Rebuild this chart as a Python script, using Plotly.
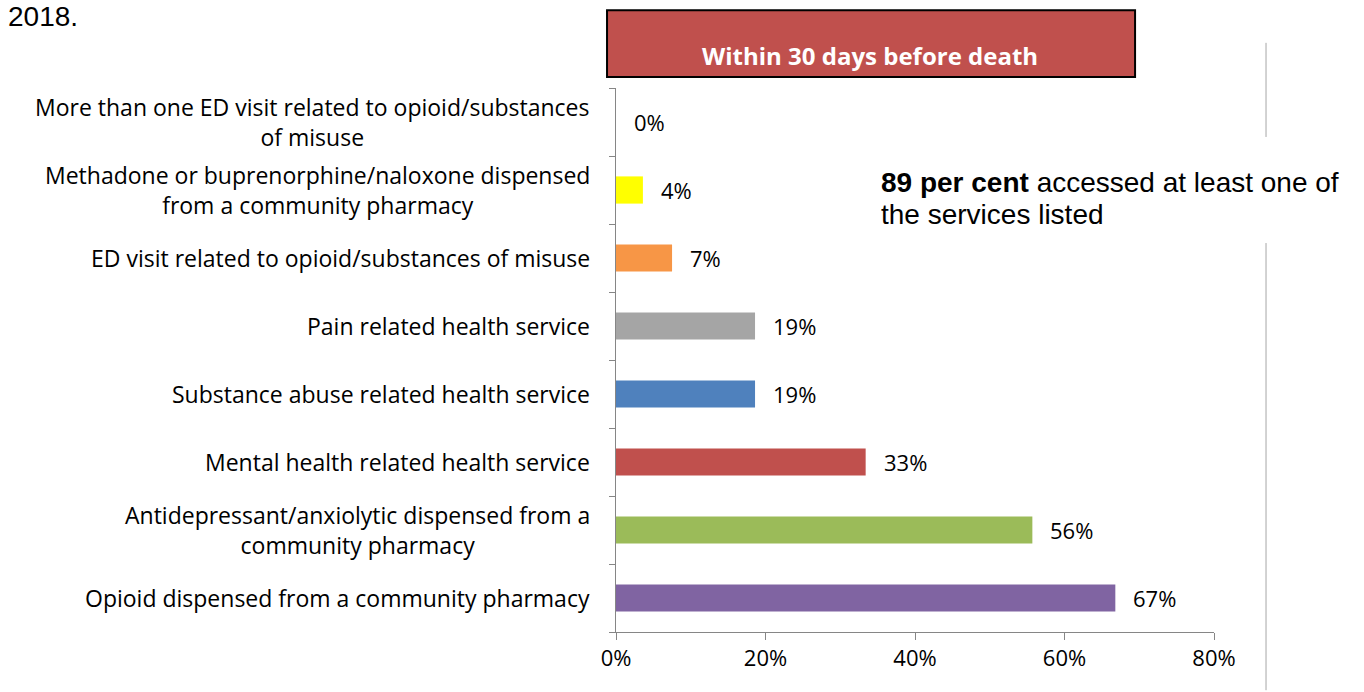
import plotly.graph_objects as go

categories = [
    "Opioid dispensed from a community pharmacy",
    "Antidepressant/anxiolytic dispensed from a<br>community pharmacy",
    "Mental health related health service",
    "Substance abuse related health service",
    "Pain related health service",
    "ED visit related to opioid/substances of misuse",
    "Methadone or buprenorphine/naloxone dispensed<br>from a community pharmacy",
    "More than one ED visit related to opioid/substances<br>of misuse",
]
values = [66.8, 55.7, 33.4, 18.6, 18.6, 7.5, 3.6, 0.0]
value_labels = ["67%", "56%", "33%", "19%", "19%", "7%", "4%", "0%"]
colors = ["#8064A2", "#9BBB59", "#C0504D", "#4F81BD", "#A5A5A5", "#F79646", "#FFFF00", "#FFFF00"]
x_ticks = [0, 20, 40, 60, 80]
x_tick_labels = ["0%", "20%", "40%", "60%", "80%"]

LABEL_FONT = dict(family="Open Sans, sans-serif", size=23, color="#000000")
VALUE_FONT = dict(family="Open Sans, sans-serif", size=22, color="#000000")
NOTE_FONT = dict(family="Liberation Sans, Arial, sans-serif", size=28, color="#000000")

fig = go.Figure()
fig.add_trace(go.Bar(
    y=categories, x=values, orientation="h",
    marker=dict(color=colors, line=dict(width=0)),
    hoverinfo="skip",
))

annotations = []
for c in categories:
    annotations.append(dict(
        x=0, xref="paper", y=c, yref="y", xanchor="right", yanchor="middle",
        xshift=-24, text=c, showarrow=False, align="center", font=LABEL_FONT,
    ))
for c, v, t in zip(categories, values, value_labels):
    annotations.append(dict(
        x=v, xref="x", y=c, yref="y", xanchor="left", yanchor="middle",
        xshift=16, text=t, showarrow=False, font=VALUE_FONT,
    ))

annotations += [
    dict(x=-1.030, xref="paper", y=1.131, yref="paper", xanchor="left", yanchor="middle",
         xshift=6, text="2018.", showarrow=False, font=NOTE_FONT),
    dict(x=0.425, xref="paper", y=1.060, yref="paper", xanchor="center", yanchor="middle",
         text="<b>Within 30 days before death</b>", showarrow=False,
         font=dict(family="Open Sans, sans-serif", size=24, color="#FFFFFF")),
    dict(x=0.440, xref="paper", y=0.826, yref="paper", xanchor="left", yanchor="middle",
         text="<b>89 per cent</b> accessed at least one of", showarrow=False, font=NOTE_FONT),
    dict(x=0.440, xref="paper", y=0.768, yref="paper", xanchor="left", yanchor="middle",
         text="the services listed", showarrow=False, font=NOTE_FONT),
]

shapes = [
    dict(type="rect", xref="paper", yref="paper", x0=-0.015, x1=0.868, y0=1.020, y1=1.143,
         fillcolor="#C0504D", line=dict(color="#000000", width=2), layer="below"),
    dict(type="line", xref="paper", yref="paper", x0=1.087, x1=1.087, y0=0.910, y1=1.083,
         line=dict(color="#A6A6A6", width=1)),
    dict(type="line", xref="paper", yref="paper", x0=1.087, x1=1.087, y0=-0.107, y1=0.715,
         line=dict(color="#A6A6A6", width=1)),
]

fig.update_layout(
    width=1364, height=692,
    margin=dict(l=616, r=150, t=88, b=60, autoexpand=False),
    paper_bgcolor="#FFFFFF", plot_bgcolor="#FFFFFF",
    showlegend=False, bargap=0.6,
    annotations=annotations, shapes=shapes,
    xaxis=dict(
        range=[0, 80], tickvals=x_ticks, ticktext=x_tick_labels,
        showgrid=False, zeroline=False, showline=True, linecolor="#868686", linewidth=1,
        ticks="outside", ticklen=7, tickcolor="#868686",
        tickfont=VALUE_FONT, fixedrange=True,
    ),
    yaxis=dict(
        showticklabels=False, showgrid=False, zeroline=False,
        showline=True, linecolor="#868686", linewidth=1,
        ticks="outside", ticklen=6, tickcolor="#868686", tickson="boundaries",
        fixedrange=True,
    ),
)

fig.write_html("out.html", config={"displayModeBar": False},
               post_script="document.body.style.margin='0px';document.body.style.overflow='hidden';")
